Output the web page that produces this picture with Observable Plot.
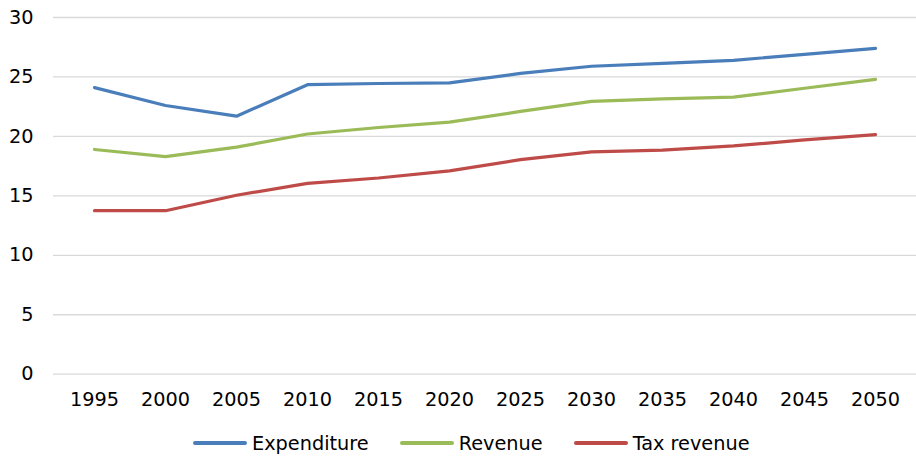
<!DOCTYPE html>
<html>
<head>
<meta charset="utf-8">
<script src="https://cdn.jsdelivr.net/npm/d3@7"></script>
<script src="https://cdn.jsdelivr.net/npm/@observablehq/plot@0.6"></script>
<style>
  html, body { margin: 0; padding: 0; background: #fff; }
  body { width: 916px; height: 457px; overflow: hidden; font-family: "DejaVu Sans", sans-serif; }
  #chart svg { display: block; }
  #legend { display: flex; align-items: center; margin-left: 193px; gap: 31px; height: 50px; font-size: 19.3px; color: #000; }
  .item { display: flex; align-items: center; gap: 5px; }
  .swatch { width: 54px; height: 4px; border-radius: 2px; }
</style>
</head>
<body>
<div id="chart"></div>
<div id="legend"></div>
<script>
const years = ["1995","2000","2005","2010","2015","2020","2025","2030","2035","2040","2045","2050"];
const expenditure = [24.1, 22.6, 21.7, 24.35, 24.45, 24.5, 25.3, 25.9, 26.15, 26.4, 26.9, 27.4];
const revenue     = [18.9, 18.3, 19.1, 20.2, 20.75, 21.2, 22.1, 22.95, 23.15, 23.3, 24.05, 24.8];
const taxRevenue  = [13.75, 13.75, 15.05, 16.05, 16.5, 17.1, 18.05, 18.7, 18.85, 19.2, 19.7, 20.15];
const seriesNames = ["Expenditure", "Revenue", "Tax revenue"];
const seriesColors = ["#4A7EBB", "#9BBB59", "#BE4B48"];
const yTicks = [0, 5, 10, 15, 20, 25, 30];

const seriesValues = [expenditure, revenue, taxRevenue];
const data = [];
seriesNames.forEach((name, i) => {
  years.forEach((yr, j) => data.push({series: name, year: yr, value: seriesValues[i][j]}));
});

const chart = Plot.plot({
  width: 916,
  height: 418,
  marginTop: 17,
  marginBottom: 44.3,
  marginLeft: 53,
  marginRight: 0,
  style: { fontFamily: "DejaVu Sans, sans-serif", fontSize: "19.3px", color: "#000", background: "#fff" },
  x: { type: "point", domain: years, padding: 0.5, label: null },
  y: { domain: [0, 30], ticks: yTicks, label: null },
  color: { domain: seriesNames, range: seriesColors },
  marks: [
    Plot.gridY(yTicks, { stroke: "#d9d9d9", strokeOpacity: 1, strokeWidth: 1.3 }),
    Plot.axisY(yTicks, { tickSize: 0, tickPadding: 20, fontSize: 19.3, label: null }),
    Plot.axisX({ tickSize: 0, tickPadding: 18, fontSize: 19.3, label: null }),
    Plot.line(data, { x: "year", y: "value", z: "series", stroke: "series", strokeWidth: 3.2, strokeLinejoin: "round", strokeLinecap: "round" })
  ]
});
document.getElementById("chart").appendChild(chart);

const legend = document.getElementById("legend");
seriesNames.forEach((name, i) => {
  const item = document.createElement("div");
  item.className = "item";
  const sw = document.createElement("span");
  sw.className = "swatch";
  sw.style.background = seriesColors[i];
  const label = document.createElement("span");
  label.textContent = name;
  item.appendChild(sw);
  item.appendChild(label);
  legend.appendChild(item);
});
</script>
</body>
</html>
